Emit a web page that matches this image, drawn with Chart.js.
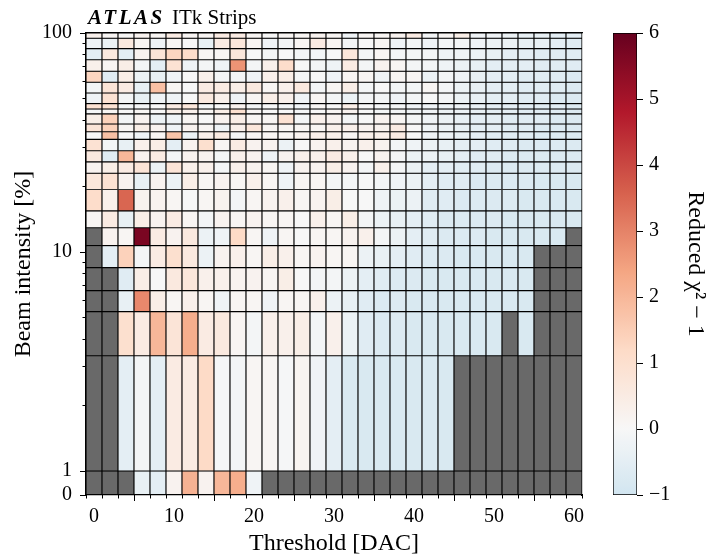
<!DOCTYPE html>
<html><head><meta charset="utf-8">
<script src="https://cdn.jsdelivr.net/npm/chart.js@4.4.1/dist/chart.umd.min.js"></script>
<style>
html,body{margin:0;padding:0;background:#fff;}
#wrap{position:relative;width:710px;height:559px;overflow:hidden;}
#main{position:absolute;left:0;top:0;}
#cbar{position:absolute;left:600px;top:0;}
#title{position:absolute;left:88px;top:7px;font-family:'Liberation Serif',serif;font-size:21px;line-height:20px;white-space:nowrap;color:#000;}
#title b{letter-spacing:2.5px;margin-right:2px;}
</style></head><body>
<div id="wrap">
<canvas id="main" width="710" height="559"></canvas>
<canvas id="cbar" width="110" height="559"></canvas>
<div id="title"><b><i>ATLAS</i></b> ITk Strips</div>
</div>
<script>
// ---------------- data ----------------
const thresholds = [0,2,4,6,8,10,12,14,16,18,20,22,24,26,28,30,32,34,36,38,40,42,44,46,48,50,52,54,56,58,60];
// beam-intensity bin edges [%], top -> bottom
const intensityEdges = [100,94.6,84.8,75.5,66.9,59.6,53.2,47.6,45.0,42.7,38.4,35.4,32.7,29.0,25.8,22.9,19.3,15.4,12.9,10.7,8.48,6.66,5.34,3.36,1,0];
const yTickValues = [0,1,10,100];
const yTickLabels = ['0','1','10','100'];
const yMinorValues = [2,3,4,5,6,7,8,9,20,30,40,50,60,70,80,90];
const xTickValues = [0,10,20,30,40,50,60];
const cbTickValues = [-1,0,1,2,3,4,5,6];
// reduced chi2 - 1 per cell, rows top -> bottom, columns = thresholds; null = no data
const N = null;
const chi2Rows = [
 [0.3,0.1,0.05,0.2,0.1,0.5,0.1,0.1,0.5,0.5,0.1,0,0.1,0.1,0.2,0.1,-0.2,0.1,0.1,0.2,0.5,-0.1,0.1,0.4,-0.2,-0.2,-0.3,-0.4,-0.4,-0.5,-0.5],
 [-0.2,-0.3,0.6,0.1,-0.2,0.1,0,-0.4,0.5,0.7,0.1,-0.2,-0.1,0.1,0.5,0.1,-0.1,0,0.1,-0.2,-0.1,-0.2,-0.1,-0.1,-0.2,-0.3,-0.3,-0.4,-0.4,-0.5,-0.6],
 [-0.5,0.6,-0.5,0.2,0.8,1.3,1.1,0.1,0.1,0.7,0,-0.1,0,-0.1,-0.1,0,0.7,-0.1,0.1,-0.1,-0.1,-0.1,-0.2,-0.2,-0.3,-0.4,-0.5,-0.5,-0.6,-0.6,-0.6],
 [0.3,0.1,0.4,-0.1,-0.5,0.9,-0.2,-0.1,-0.2,2.7,-0.1,0.3,1.1,0,-0.1,-0.2,0.5,-0.1,0.2,0.1,-0.1,-0.1,-0.2,-0.3,-0.4,-0.5,-0.5,-0.5,-0.6,-0.6,-0.6],
 [1.3,-0.6,0.4,-0.3,-0.4,-0.2,0,0.3,-0.1,-0.1,-0.2,0.3,0.4,-0.1,0,-0.2,0.1,0.1,-0.2,0.1,0.1,-0.3,-0.1,-0.2,-0.4,-0.5,-0.5,-0.6,-0.6,-0.6,-0.7],
 [-0.1,0.8,0.5,-0.4,1.8,0.1,0,0.5,0.5,0.4,0.6,0.1,0.3,0.6,-0.1,0.1,0.4,-0.1,0,-0.1,-0.1,0.1,-0.1,-0.3,-0.4,-0.5,-0.5,-0.6,-0.6,-0.6,-0.7],
 [-0.2,0.9,-0.1,-0.4,-0.2,-0.2,0,0.6,0.3,-0.2,0.1,0.4,0.3,-0.2,0.1,-0.1,-0.3,-0.1,-0.1,-0.2,-0.1,0,-0.1,-0.3,-0.4,-0.5,-0.5,-0.6,-0.6,-0.7,-0.7],
 [0.9,0.9,-0.1,-0.1,0,0.5,0.7,-0.1,0,0.2,-0.1,0,-0.1,-0.2,0.1,0,0.4,0,-0.1,-0.1,-0.2,-0.2,-0.3,-0.3,-0.4,-0.5,-0.5,-0.6,-0.6,-0.6,-0.7],
 [-0.05,0.1,0,0.1,0,0.4,0.3,0.1,0.4,1.0,0.1,0,0,-0.1,0,0.1,0.2,0,-0.1,-0.1,-0.2,-0.2,-0.3,-0.3,-0.4,-0.5,-0.5,-0.6,-0.6,-0.6,-0.7],
 [0.4,1.4,-0.1,0.2,-0.3,-0.2,0.1,0,0.2,0.4,0.1,0.1,0.9,-0.1,0.3,0.2,-0.1,0,0.2,0.1,-0.1,-0.2,-0.3,-0.4,-0.5,-0.5,-0.6,-0.6,-0.6,-0.7,-0.7],
 [0.8,1.4,0.1,0.4,0.2,-0.2,0.2,0.1,-0.2,0.3,0.7,0.1,0.1,0.1,0.1,0.3,0.3,0.2,0.2,0.5,0,-0.2,-0.3,-0.4,-0.5,-0.5,-0.6,-0.6,-0.7,-0.7,-0.7],
 [0,1.8,0,-0.2,0.1,1.7,-0.3,0.3,0.5,-0.1,0.1,0.1,0.1,0.2,0.3,0.3,0.1,0.3,0.3,0.5,0,-0.2,-0.3,-0.4,-0.5,-0.6,-0.6,-0.6,-0.7,-0.7,-0.7],
 [0.9,-0.1,-0.4,0.3,0.4,-0.5,0.2,1.0,0.1,0.5,0.2,0.2,-0.3,0,0.2,0.3,0.2,0.3,0.2,-0.1,-0.2,-0.3,-0.4,-0.5,-0.5,-0.6,-0.6,-0.7,-0.7,-0.7,-0.7],
 [0.6,-0.6,2.0,0.2,0.5,-0.1,0.2,0.2,-0.1,0.3,0.2,-0.2,0.2,0.3,0.3,0.5,0.3,0,0.2,-0.1,-0.3,-0.3,-0.4,-0.5,-0.6,-0.6,-0.7,-0.7,-0.7,-0.7,-0.7],
 [0.2,0.4,0.5,0.8,-0.3,0.8,0.3,0.3,-0.1,0.3,0.2,0.1,-0.2,0.2,0.2,0.4,0.2,-0.1,0.3,-0.1,-0.3,-0.5,-0.5,-0.6,-0.6,-0.7,-0.7,-0.7,-0.7,-0.7,-0.7],
 [0.7,0.9,0.2,-0.4,0.2,-0.3,0.4,0.1,0.2,0.1,0.3,0.1,-0.2,0.1,0.1,-0.1,-0.1,0,-0.1,-0.2,-0.3,-0.5,-0.6,-0.6,-0.7,-0.7,-0.7,-0.7,-0.8,-0.8,-0.8],
 [1.1,0.3,3.5,0.2,0.2,0.1,0,0.1,0.2,-0.1,0.1,0.2,0.3,0.1,0.2,0.4,0,0,-0.2,-0.3,-0.3,-0.6,-0.6,-0.7,-0.7,-0.7,-0.7,-0.8,-0.8,-0.8,-0.8],
 [0.1,0.5,-0.4,0.4,0.2,0.5,0.1,-0.1,0.2,0.1,0.2,0.1,0.1,0,0.3,0.1,0.4,-0.1,-0.3,-0.4,-0.5,-0.6,-0.7,-0.7,-0.7,-0.7,-0.8,-0.8,-0.8,-0.8,-0.8],
 [N,0.2,0.1,5.7,0.5,0.2,0.6,-0.3,-0.2,1.2,0.1,-0.2,0.1,0,0.1,0.1,0.2,0.3,-0.1,-0.3,-0.5,-0.6,-0.7,-0.7,-0.7,-0.8,-0.8,-0.8,-0.8,-0.8,N],
 [N,-0.5,1.4,-0.1,0.5,1.0,0.6,-0.3,0.2,0.3,0.1,0.4,0.3,0.1,0.2,0.1,0.1,-0.3,-0.4,-0.5,-0.6,-0.7,-0.7,-0.8,-0.8,-0.8,-0.8,-0.8,N,N,N],
 [N,N,-0.6,0.4,0,0.6,0.7,0.3,0.3,0.2,0.2,0.1,0.4,0,-0.1,-0.1,-0.3,-0.5,-0.6,-0.7,-0.7,-0.8,-0.8,-0.8,-0.8,-0.8,-0.8,-0.8,N,N,N],
 [N,N,-0.4,2.9,0.4,0.1,0.3,0.1,-0.2,0.1,0.1,-0.2,0.1,0.1,0.3,-0.3,-0.4,-0.6,-0.7,-0.7,-0.8,-0.8,-0.8,-0.8,-0.8,-0.8,-0.8,-0.8,N,N,N],
 [N,N,1.0,0.5,2.0,0.8,2.2,0.5,0.6,0.1,-0.1,0.3,0.3,0.4,-0.1,0.3,-0.3,-0.6,-0.7,-0.7,-0.8,-0.8,-0.8,-0.8,-0.8,-0.8,N,-0.8,N,N,N],
 [N,N,-0.5,-0.1,-0.5,0.5,0.5,1.2,-0.05,-0.1,0.1,0.1,-0.05,0.15,-0.2,-0.5,-0.8,-0.8,-0.8,-0.8,-0.8,-0.8,-0.8,N,N,N,N,N,N,N,N],
 [N,N,N,-0.4,-0.5,0.2,2.1,0.2,2.0,2.2,-0.2,N,N,N,N,N,N,N,N,N,N,N,N,N,N,N,N,N,N,N,N]
];

// ---------------- helpers ----------------
const LIN = 24/219;           // height of the linear 0..1 part relative to one decade
function yT(v){ return v <= 1 ? v*LIN : LIN + Math.log10(v); }
const cmapStops = [[0.4,[209,229,240]],[0.5,[247,247,247]],[0.6,[253,219,199]],[0.7,[244,165,130]],[0.8,[214,96,77]],[0.9,[178,24,43]],[1.0,[103,0,31]]];
function cpos(v){ return v < 0 ? 0.5 + 0.1*Math.max(v,-1) : 0.5 + Math.min(v,6)/12; }
function cmap(v){
  if (v === null || v === undefined) return '#696969';
  const p = cpos(v);
  for (let i=1;i<cmapStops.length;i++){
    if (p <= cmapStops[i][0]){
      const [p0,c0]=cmapStops[i-1],[p1,c1]=cmapStops[i];
      const f=(p-p0)/(p1-p0);
      const c=c0.map((a,k)=>Math.round(a+(c1[k]-a)*f));
      return `rgb(${c[0]},${c[1]},${c[2]})`;
    }
  }
  return 'rgb(103,0,31)';
}
const FONT = "'Liberation Serif', 'Times New Roman', serif";

const datasets = chi2Rows.map((row, r) => ({
  data: thresholds.map((t, c) => ({x: t, y: [yT(intensityEdges[r+1]), yT(intensityEdges[r])]})),
  backgroundColor: row.map(cmap),
  borderColor: '#000',
  borderWidth: 0.9,
  borderSkipped: false,
  barPercentage: 1,
  categoryPercentage: 1,
  grouped: false
}));

const fixed = (w,h) => (s) => { if (w!==null) s.width = w; if (h!==null) s.height = h; };

new Chart(document.getElementById('main'), {
  type: 'bar',
  data: { datasets },
  options: {
    responsive: false, animation: false,
    layout: { padding: { left: 0, top: 33, right: 128, bottom: 0 } },
    plugins: { legend: { display: false }, tooltip: { enabled: false } },
    scales: {
      x: {
        type: 'linear', position: 'bottom', min: -1, max: 61, offset: false, weight: 1,
        afterBuildTicks: s => { s.ticks = xTickValues.map(v => ({value: v})); },
        afterFit: fixed(null, 64),
        grid: { drawOnChartArea: false, tickLength: 6, tickColor: '#000', tickWidth: 1 },
        border: { display: true, color: '#000', width: 1.2 },
        ticks: { color: '#000', font: { family: FONT, size: 20 }, padding: 4, maxRotation: 0, autoSkip: false },
        title: { display: true, text: 'Threshold [DAC]', color: '#000', font: { family: FONT, size: 24 }, padding: { top: 0, bottom: 1 } }
      },
      xMinor: {
        type: 'linear', position: 'bottom', min: -1, max: 61, offset: false, weight: 0,
        afterBuildTicks: s => { s.ticks = thresholds.map(v => ({value: v})); },
        afterFit: fixed(null, 0),
        grid: { drawOnChartArea: false, tickLength: 3.5, tickColor: '#000', tickWidth: 1 },
        border: { display: false },
        ticks: { display: true, callback: () => '', autoSkip: false, font: {size: 1} }
      },
      xTop: {
        type: 'linear', position: 'top', min: -1, max: 61, offset: false,
        afterFit: fixed(null, 0),
        grid: { display: false },
        border: { display: true, color: '#000', width: 1.2 },
        ticks: { display: false }
      },
      y: {
        type: 'linear', position: 'left', min: 0, max: yT(100), weight: 1,
        afterBuildTicks: s => { s.ticks = yTickValues.map(v => ({value: yT(v)})); },
        afterFit: fixed(86, null),
        grid: { drawOnChartArea: false, tickLength: 6, tickColor: '#000', tickWidth: 1 },
        border: { display: true, color: '#000', width: 1.2 },
        ticks: { color: '#000', font: { family: FONT, size: 20 }, padding: 8, autoSkip: false,
                 callback: (val, i) => yTickLabels[i] },
        title: { display: true, text: 'Beam intensity [%]', color: '#000', font: { family: FONT, size: 24 }, padding: { top: 9, bottom: 0 } }
      },
      yMinor: {
        type: 'linear', position: 'left', min: 0, max: yT(100), weight: 0,
        afterBuildTicks: s => { s.ticks = yMinorValues.map(v => ({value: yT(v)})); },
        afterFit: fixed(0, null),
        grid: { drawOnChartArea: false, tickLength: 3.5, tickColor: '#000', tickWidth: 1 },
        border: { display: false },
        ticks: { display: true, callback: () => '', autoSkip: false, font: {size: 1} }
      },
      yRight: {
        type: 'linear', position: 'right', min: 0, max: yT(100),
        afterFit: fixed(0, null),
        grid: { display: false },
        border: { display: true, color: '#000', width: 1.2 },
        ticks: { display: false }
      }
    }
  }
});

// ---------------- colour bar ----------------
function cbFill(ctx){
  const ca = ctx.chart.chartArea;
  if (!ca) return '#f7f7f7';
  const y0 = ctx.chart.scales.y.getPixelForValue(-1), y1 = ctx.chart.scales.y.getPixelForValue(6);
  const g = ctx.chart.ctx.createLinearGradient(0, y0, 0, y1);
  for (let i = 0; i <= 70; i++){
    const v = -1 + i*0.1;
    g.addColorStop(i/70, cmap(v));
  }
  return g;
}
new Chart(document.getElementById('cbar'), {
  type: 'bar',
  data: { labels: [''], datasets: [{ data: [[-1, 6]], backgroundColor: cbFill, borderColor: '#000', borderWidth: 1, borderSkipped: false, barPercentage: 1, categoryPercentage: 1 }] },
  options: {
    responsive: false, animation: false,
    layout: { padding: { left: 13, top: 33, right: 0, bottom: 64 } },
    plugins: { legend: { display: false }, tooltip: { enabled: false } },
    scales: {
      x: { display: false },
      y: {
        position: 'right', min: -1, max: 6,
        afterBuildTicks: s => { s.ticks = cbTickValues.map(v => ({value: v})); },
        afterFit: fixed(73, null),
        grid: { drawOnChartArea: false, tickLength: 6, tickColor: '#000', tickWidth: 1 },
        border: { display: false },
        ticks: { color: '#000', font: { family: FONT, size: 20 }, padding: 6, autoSkip: false,
                 callback: v => v < 0 ? '\u2212' + Math.abs(v) : String(v) },
        title: { display: true, text: 'Reduced \u03c7\u00b2 \u2212 1', color: '#000', font: { family: FONT, size: 24 }, padding: { top: 0, bottom: 0 } }
      }
    }
  }
});
</script>
</body></html>
